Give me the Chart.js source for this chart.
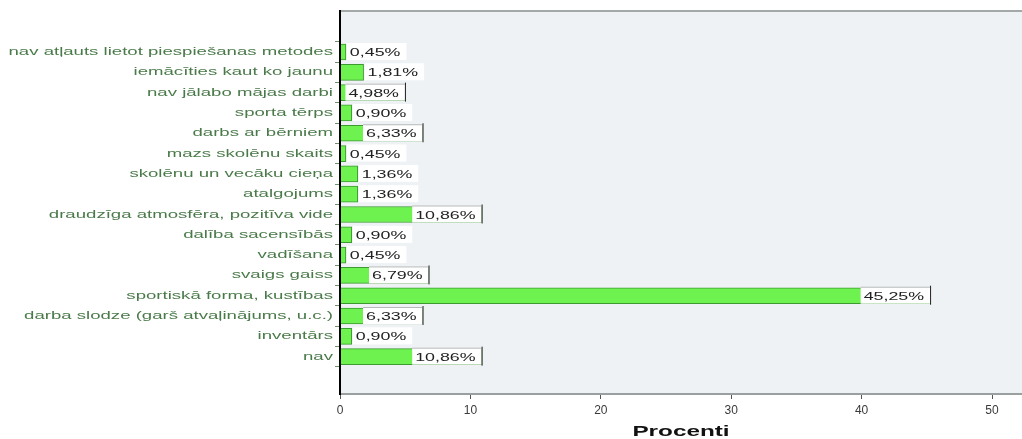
<!DOCTYPE html>
<html>
<head>
<meta charset="utf-8">
<script src="https://cdn.jsdelivr.net/npm/chart.js@4.4.1/dist/chart.umd.min.js"></script>
<style>
  html, body { margin: 0; padding: 0; background: #ffffff; }
  #wrap { width: 1022px; height: 439px; }
</style>
</head>
<body>
<div id="wrap"><canvas id="c" width="1022" height="439"></canvas></div>
<script>
// Answer categories, top to bottom
const categories = [
  'nav atļauts lietot piespiešanas metodes',
  'iemācīties kaut ko jaunu',
  'nav jālabo mājas darbi',
  'sporta tērps',
  'darbs ar bērniem',
  'mazs skolēnu skaits',
  'skolēnu un vecāku cieņa',
  'atalgojums',
  'draudzīga atmosfēra, pozitīva vide',
  'dalība sacensībās',
  'vadīšana',
  'svaigs gaiss',
  'sportiskā forma, kustības',
  'darba slodze (garš atvaļinājums, u.c.)',
  'inventārs',
  'nav'
];

// Share of respondents, percent
const percentValues = [0.45, 1.81, 4.98, 0.90, 6.33, 0.45, 1.36, 1.36, 10.86, 0.90, 0.45, 6.79, 45.25, 6.33, 0.90, 10.86];

// Percent axis ticks
const xTickValues = [0, 10, 20, 30, 40, 50];

const axisTitle = 'Procenti';

const FONT = "'Liberation Sans', Arial, sans-serif";
const STRETCH = 1.62;        // wide, flattened lettering of the value boxes
const LABEL_STRETCH = 1.69;  // same for the category names

const fmtPct = v => v.toFixed(2).replace('.', ',') + '%';

// Plot background and top frame line
const plotBackground = {
  id: 'plotBackground',
  beforeDraw(chart) {
    const { ctx, chartArea: a } = chart;
    ctx.save();
    ctx.fillStyle = '#eef2f4';
    ctx.fillRect(a.left, a.top, a.right - a.left, a.bottom - a.top);
    ctx.strokeStyle = '#a3a9a9';
    ctx.lineWidth = 2;
    ctx.beginPath();
    ctx.moveTo(a.left, a.top);
    ctx.lineTo(a.right, a.top);
    ctx.stroke();
    ctx.restore();
  }
};

// Horizontally widened axis lettering
const wideText = {
  id: 'wideText',
  afterLayout(chart) {
    const y = chart.scales.y;
    if (!y._wide) {
      const orig = y.drawLabels;
      y.drawLabels = function (area) {
        const ctx = this.ctx;
        const a = this.right - 7;
        ctx.save();
        ctx.translate(a, 0);
        ctx.scale(LABEL_STRETCH, 1);
        ctx.translate(-a, 0);
        orig.call(this, area);
        ctx.restore();
      };
      y._wide = true;
    }
    const x = chart.scales.x;
    if (!x._wide) {
      const origT = x.drawTitle;
      x.drawTitle = function () {
        const ctx = this.ctx;
        const c = (this.left + this.right) / 2;
        ctx.save();
        ctx.translate(c, 0);
        ctx.scale(STRETCH, 1);
        ctx.translate(-c, 0);
        origT.call(this);
        ctx.restore();
      };
      x._wide = true;
    }
  }
};

// Value boxes at the bar ends
const valueBoxes = {
  id: 'valueBoxes',
  afterDatasetsDraw(chart) {
    const ctx = chart.ctx;
    const meta = chart.getDatasetMeta(0);
    ctx.save();
    ctx.font = '11px ' + FONT;
    meta.data.forEach((el, i) => {
      const text = fmtPct(percentValues[i]);
      const tw = ctx.measureText(text).width * STRETCH;
      const boxW = tw + 9;
      const barLen = el.x - el.base;
      const inside = barLen >= boxW - 4;
      const left = inside ? el.x - boxW : el.x + 1;
      const top = el.y - 9;
      const h = 17;
      ctx.fillStyle = '#ffffff';
      ctx.fillRect(left, top, boxW, h);
      if (inside) {
        ctx.strokeStyle = '#b4b8b8';
        ctx.lineWidth = 1;
        ctx.beginPath();
        ctx.moveTo(left, top + 0.5);
        ctx.lineTo(el.x, top + 0.5);
        ctx.stroke();
        ctx.strokeStyle = '#222222';
        ctx.beginPath();
        ctx.moveTo(el.x + 0.5, top - 1);
        ctx.lineTo(el.x + 0.5, top + h + 1);
        ctx.stroke();
      }
      ctx.save();
      const tx = left + 3;
      ctx.translate(tx, el.y + 1);
      ctx.scale(STRETCH, 1);
      ctx.fillStyle = '#222222';
      ctx.textBaseline = 'middle';
      ctx.textAlign = 'left';
      ctx.fillText(text, 0, 0);
      ctx.restore();
    });
    ctx.restore();
  }
};

new Chart(document.getElementById('c'), {
  type: 'bar',
  data: {
    datasets: [{
      data: percentValues.map((v, i) => ({ x: v, y: i })),
      backgroundColor: '#6ef24f',
      borderColor: '#3d9a30',
      borderWidth: 1,
      barThickness: 16
    }]
  },
  options: {
    indexAxis: 'y',
    responsive: false,
    animation: false,
    layout: { padding: { top: 11, right: 0, bottom: 0, left: 0 } },
    plugins: { legend: { display: false }, tooltip: { enabled: false } },
    scales: {
      x: {
        type: 'linear',
        position: 'bottom',
        min: 0,
        max: 52.3,
        afterBuildTicks: s => { s.ticks = xTickValues.map(v => ({ value: v })); },
        afterFit: s => { s.height = 45; },
        ticks: { font: { family: FONT, size: 12 }, color: '#3a3a3a', padding: 4 },
        grid: { drawOnChartArea: false, drawTicks: true, tickLength: 5, color: '#555555', lineWidth: 1 },
        border: { color: '#9aa0a0', width: 2 },
        title: {
          display: true,
          text: axisTitle,
          font: { family: FONT, size: 15, weight: 'bold', lineHeight: 1 },
          color: '#111111',
          padding: { top: 0, bottom: 0 }
        }
      },
      y: {
        type: 'linear',
        reverse: true,
        min: -1.43,
        max: 16.25,
        afterBuildTicks: s => { s.ticks = categories.map((_, i) => ({ value: i })); },
        afterFit: s => { s.width = 340; },
        ticks: {
          autoSkip: false,
          callback: v => categories[v] ?? '',
          font: { family: FONT, size: 11 },
          color: '#4a7a4a',
          padding: 2
        },
        grid: { drawOnChartArea: false, drawTicks: true, tickLength: 5, color: '#6f8f6f' },
        border: { color: '#000000', width: 2, z: 1 }
      }
    }
  },
  plugins: [plotBackground, wideText, valueBoxes]
});
</script>
</body>
</html>
